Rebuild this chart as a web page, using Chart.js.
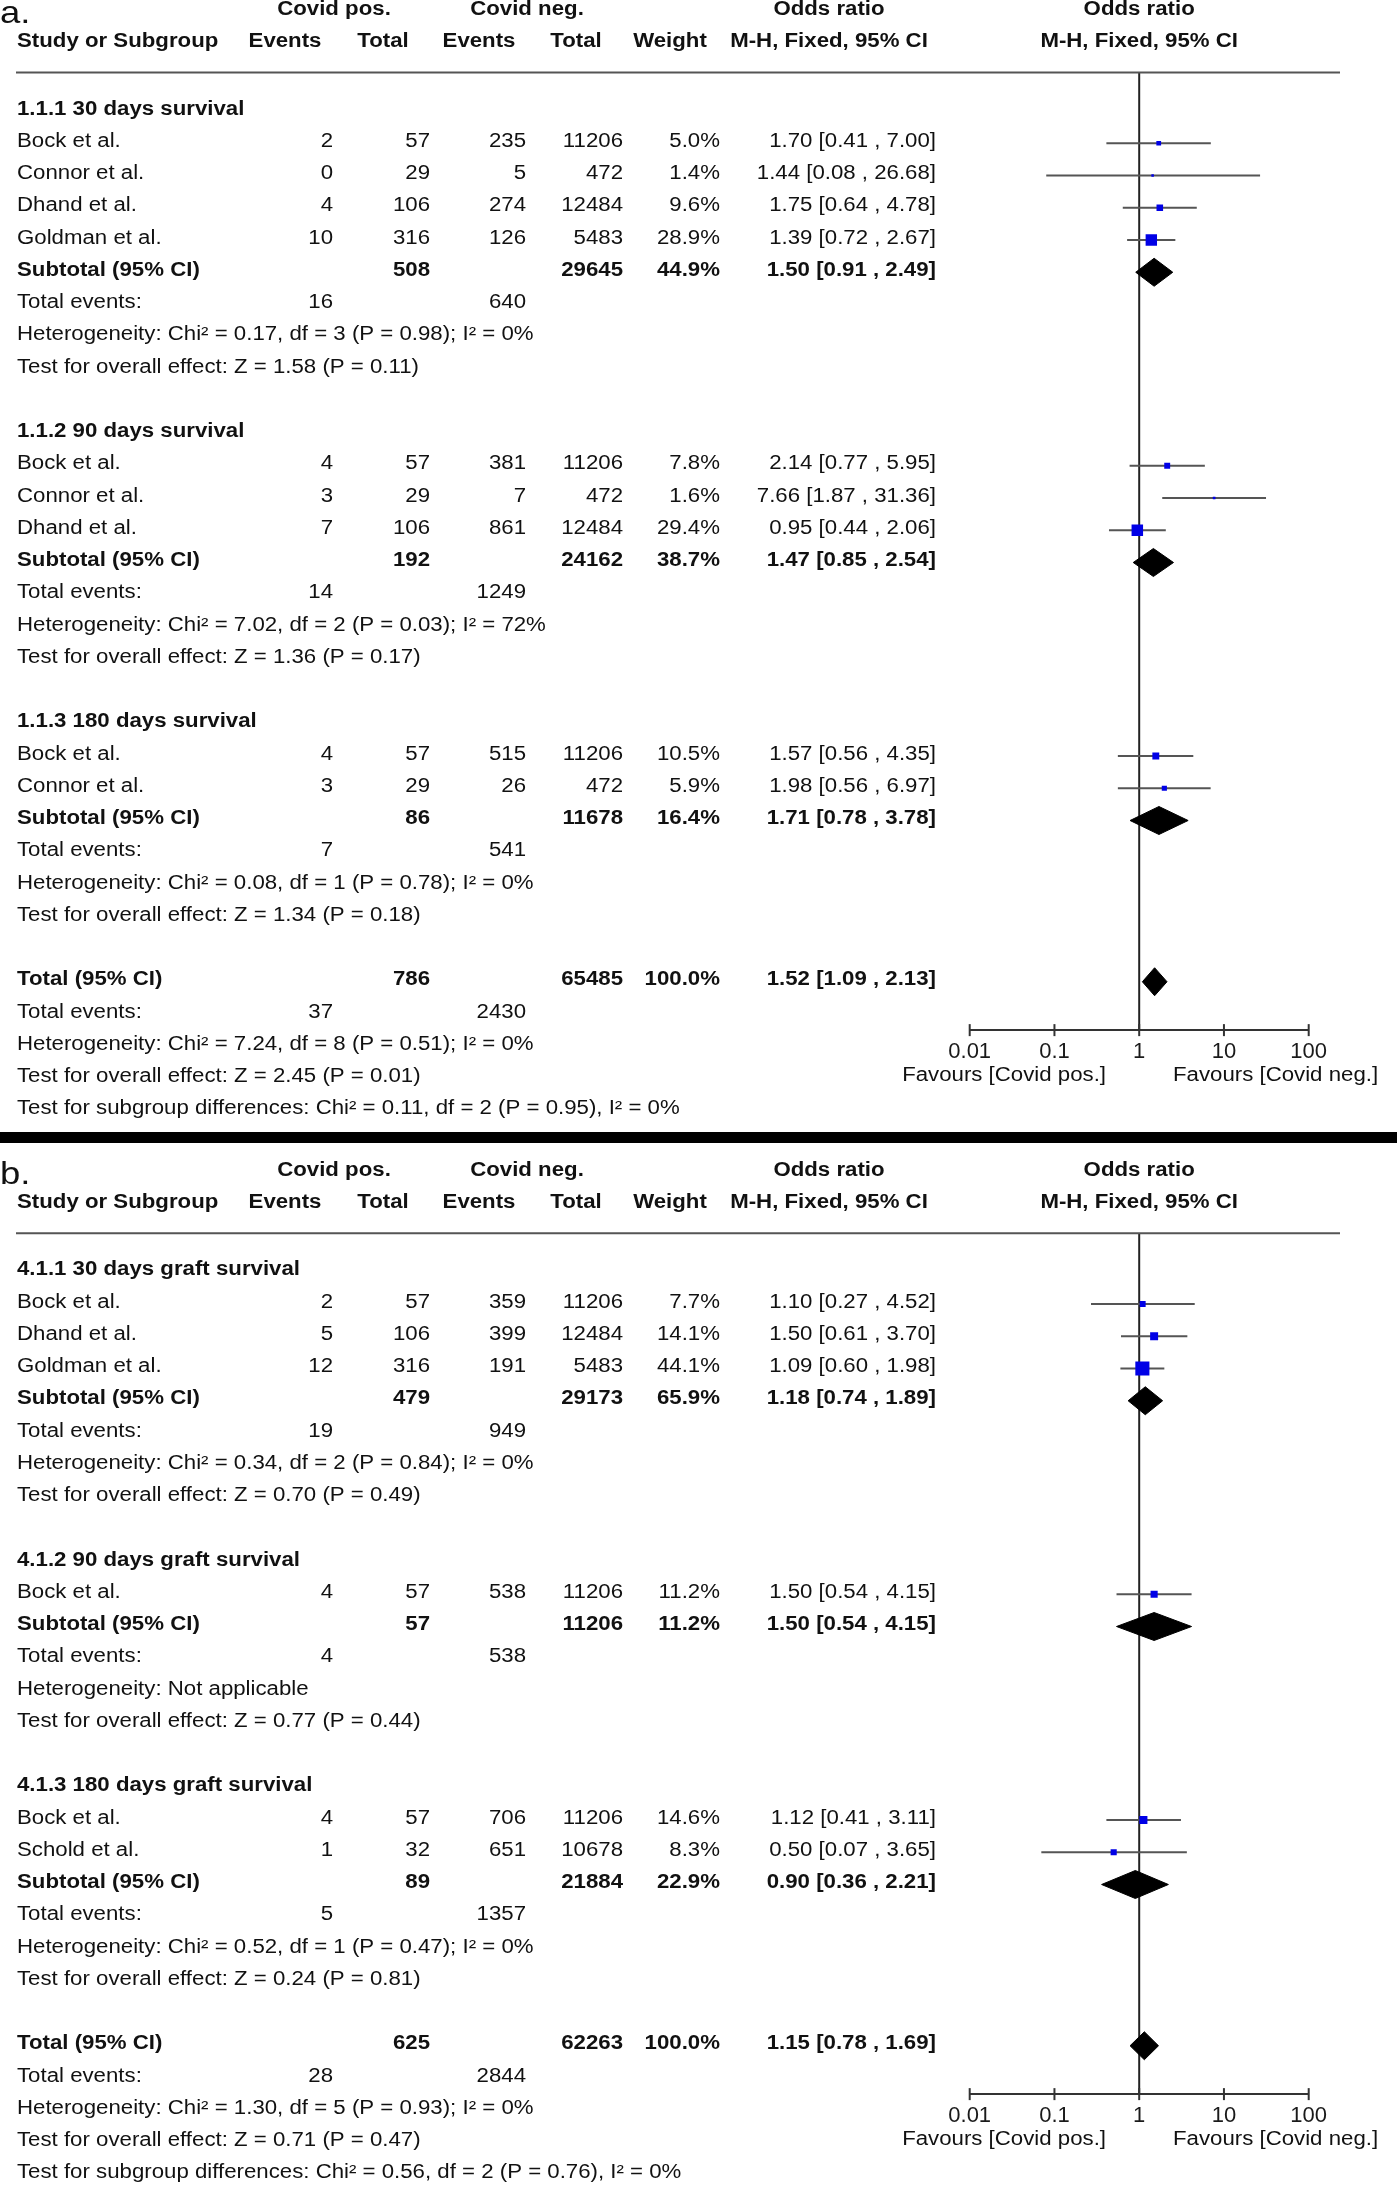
<!DOCTYPE html>
<html>
<head>
<meta charset="utf-8">
<script src="https://cdn.jsdelivr.net/npm/chart.js@4/dist/chart.umd.min.js"></script>
<style>
  body { margin: 0; background: #fff; }
  #page { position: relative; width: 1397px; height: 2185px; overflow: hidden; }
  canvas { position: absolute; left: 0; }
</style>
</head>
<body>
<div id="page">
  <canvas id="chartA" width="1397" height="1131" style="top:0;width:1397px;height:1131px"></canvas>
  <div style="position:absolute;left:0;top:1132px;width:1397px;height:11px;background:#000"></div>
  <canvas id="chartB" width="1397" height="1042" style="top:1143px;width:1397px;height:1042px"></canvas>
</div>
<script>
// Axis ticks
const tickValues = [0.01, 0.1, 1, 10, 100];
const tickLabels = ["0.01", "0.1", "1", "10", "100"];

// Panel a - survival
const aGroups = ["1.1.1 30 days survival", "1.1.2 90 days survival", "1.1.3 180 days survival"];
const aStudy = ["Bock et al.", "Connor et al.", "Dhand et al.", "Goldman et al.", "Bock et al.", "Connor et al.", "Dhand et al.", "Bock et al.", "Connor et al."];
const aGroupOf = [0, 0, 0, 0, 1, 1, 1, 2, 2];
const aPosEvents = [2, 0, 4, 10, 4, 3, 7, 4, 3];
const aPosTotal = [57, 29, 106, 316, 57, 29, 106, 57, 29];
const aNegEvents = [235, 5, 274, 126, 381, 7, 861, 515, 26];
const aNegTotal = [11206, 472, 12484, 5483, 11206, 472, 12484, 11206, 472];
const aWeight = [5.0, 1.4, 9.6, 28.9, 7.8, 1.6, 29.4, 10.5, 5.9];
const aOR = [1.70, 1.44, 1.75, 1.39, 2.14, 7.66, 0.95, 1.57, 1.98];
const aLow = [0.41, 0.08, 0.64, 0.72, 0.77, 1.87, 0.44, 0.56, 0.56];
const aHigh = [7.00, 26.68, 4.78, 2.67, 5.95, 31.36, 2.06, 4.35, 6.97];
const aSubPosTotal = [508, 192, 86];
const aSubNegTotal = [29645, 24162, 11678];
const aSubWeight = [44.9, 38.7, 16.4];
const aSubOR = [1.50, 1.47, 1.71];
const aSubLow = [0.91, 0.85, 0.78];
const aSubHigh = [2.49, 2.54, 3.78];
const aSubPosEvents = [16, 14, 7];
const aSubNegEvents = [640, 1249, 541];
const aSubHet = ["Heterogeneity: Chi² = 0.17, df = 3 (P = 0.98); I² = 0%",
                 "Heterogeneity: Chi² = 7.02, df = 2 (P = 0.03); I² = 72%",
                 "Heterogeneity: Chi² = 0.08, df = 1 (P = 0.78); I² = 0%"];
const aSubTest = ["Test for overall effect: Z = 1.58 (P = 0.11)",
                  "Test for overall effect: Z = 1.36 (P = 0.17)",
                  "Test for overall effect: Z = 1.34 (P = 0.18)"];
const aTotal = [786, 65485, 100.0];       // pos total, neg total, weight
const aTotalOR = [1.52, 1.09, 2.13];      // estimate, low, high
const aTotalEvents = [37, 2430];
const aTotalNotes = ["Heterogeneity: Chi² = 7.24, df = 8 (P = 0.51); I² = 0%",
                     "Test for overall effect: Z = 2.45 (P = 0.01)",
                     "Test for subgroup differences: Chi² = 0.11, df = 2 (P = 0.95), I² = 0%"];

// Panel b - graft survival
const bGroups = ["4.1.1 30 days graft survival", "4.1.2 90 days graft survival", "4.1.3 180 days graft survival"];
const bStudy = ["Bock et al.", "Dhand et al.", "Goldman et al.", "Bock et al.", "Bock et al.", "Schold et al."];
const bGroupOf = [0, 0, 0, 1, 2, 2];
const bPosEvents = [2, 5, 12, 4, 4, 1];
const bPosTotal = [57, 106, 316, 57, 57, 32];
const bNegEvents = [359, 399, 191, 538, 706, 651];
const bNegTotal = [11206, 12484, 5483, 11206, 11206, 10678];
const bWeight = [7.7, 14.1, 44.1, 11.2, 14.6, 8.3];
const bOR = [1.10, 1.50, 1.09, 1.50, 1.12, 0.50];
const bLow = [0.27, 0.61, 0.60, 0.54, 0.41, 0.07];
const bHigh = [4.52, 3.70, 1.98, 4.15, 3.11, 3.65];
const bSubPosTotal = [479, 57, 89];
const bSubNegTotal = [29173, 11206, 21884];
const bSubWeight = [65.9, 11.2, 22.9];
const bSubOR = [1.18, 1.50, 0.90];
const bSubLow = [0.74, 0.54, 0.36];
const bSubHigh = [1.89, 4.15, 2.21];
const bSubPosEvents = [19, 4, 5];
const bSubNegEvents = [949, 538, 1357];
const bSubHet = ["Heterogeneity: Chi² = 0.34, df = 2 (P = 0.84); I² = 0%",
                 "Heterogeneity: Not applicable",
                 "Heterogeneity: Chi² = 0.52, df = 1 (P = 0.47); I² = 0%"];
const bSubTest = ["Test for overall effect: Z = 0.70 (P = 0.49)",
                  "Test for overall effect: Z = 0.77 (P = 0.44)",
                  "Test for overall effect: Z = 0.24 (P = 0.81)"];
const bTotal = [625, 62263, 100.0];
const bTotalOR = [1.15, 0.78, 1.69];
const bTotalEvents = [28, 2844];
const bTotalNotes = ["Heterogeneity: Chi² = 1.30, df = 5 (P = 0.93); I² = 0%",
                     "Test for overall effect: Z = 0.71 (P = 0.47)",
                     "Test for subgroup differences: Chi² = 0.56, df = 2 (P = 0.76), I² = 0%"];

// Layout
const FONT = "'Liberation Sans', Arial, sans-serif";
const FS = 19.5;       // font size
const SX = 1.14;       // text is a bit wide in the original
const ROW = 32.25;     // px per row
const col = { name: 17, posEv: 333, posTot: 430, negEv: 526, negTot: 623, weight: 720, ci: 936 };
const head = { posEv: 285, posTot: 383, negEv: 479, negTot: 576, weight: 670, ci: 829, pos: 334, neg: 527 };

function txt(ctx, s, x, y, align, bold, size) {
    ctx.save();
    ctx.font = (bold ? "bold " : "") + (size || FS) + "px " + FONT;
    ctx.fillStyle = "#111";
    ctx.textAlign = align;
    ctx.textBaseline = "alphabetic";
    ctx.translate(x, y);
    ctx.scale(SX, 1);
    ctx.fillText(s, 0, 0);
    ctx.restore();
}

function ciText(or, lo, hi) {
    return or.toFixed(2) + " [" + lo.toFixed(2) + " , " + hi.toFixed(2) + "]";
}

// one row per line of the table
function buildRows(p) {
    const rows = [];
    p.groups.forEach((g, gi) => {
        rows.push({ kind: "group", text: g });
        p.study.forEach((s, i) => {
            if (p.groupOf[i] === gi) rows.push({ kind: "study", i: i });
        });
        rows.push({ kind: "sub", gi: gi });
        rows.push({ kind: "events", a: p.subPosEvents[gi], b: p.subNegEvents[gi] });
        rows.push({ kind: "note", text: p.subHet[gi] });
        rows.push({ kind: "note", text: p.subTest[gi] });
        rows.push({ kind: "blank" });
    });
    rows.push({ kind: "total" });
    rows.push({ kind: "events", a: p.totalEvents[0], b: p.totalEvents[1] });
    p.totalNotes.forEach(t => rows.push({ kind: "note", text: t }));
    return rows;
}

function makeChart(canvasId, label, p, row0) {
    const rows = buildRows(p);
    const yMin = -38.5 / ROW;
    const yMax = rows.length - 3.5;
    const canvas = document.getElementById(canvasId);
    const H = canvas.height;
    const axisPx = row0 + yMax * ROW;
    const DH = 0.434; // diamond half height in rows

    const squares = [];
    const ciLines = [];
    const diamonds = [];
    rows.forEach((r, k) => {
        if (r.kind === "study") {
            squares.push({ x: p.or[r.i], y: k, w: p.weight[r.i] });
            ciLines.push({
                data: [{ x: p.low[r.i], y: k }, { x: p.high[r.i], y: k }],
                showLine: true, borderColor: "#555", borderWidth: 2.2, pointRadius: 0
            });
        } else if (r.kind === "sub" || r.kind === "total") {
            const est = r.kind === "sub" ? p.subOR[r.gi] : p.totalOR[0];
            const lo = r.kind === "sub" ? p.subLow[r.gi] : p.totalOR[1];
            const hi = r.kind === "sub" ? p.subHigh[r.gi] : p.totalOR[2];
            diamonds.push({
                data: [{ x: lo, y: k }, { x: est, y: k - DH }, { x: hi, y: k }, { x: est, y: k + DH }, { x: lo, y: k }],
                showLine: true, fill: "shape", backgroundColor: "#000", borderColor: "#000",
                borderWidth: 1, pointRadius: 0, tension: 0
            });
        }
    });

    const datasets = [];
    datasets.push({
        data: squares.map(s => ({ x: s.x, y: s.y })),
        pointStyle: "rect",
        pointRadius: squares.map(s => 1.5 * Math.sqrt(s.w)),
        pointBackgroundColor: "#0000e6",
        pointBorderWidth: 0,
        showLine: false
    });
    diamonds.forEach(d => datasets.push(d));
    ciLines.forEach(d => datasets.push(d));
    // tick marks crossing the axis
    datasets.push({
        data: tickValues.map(v => ({ x: v, y: yMax })),
        pointStyle: "line", pointRotation: 90, pointRadius: 6,
        pointBorderColor: "#333", pointBorderWidth: 2, showLine: false, clip: false
    });
    // line of no effect
    datasets.push({
        data: [{ x: 1, y: yMin }, { x: 1, y: yMax }],
        showLine: true, borderColor: "#222", borderWidth: 2, pointRadius: 0
    });

    const tablePlugin = {
        id: "tableText",
        afterDraw(chart) {
            const ctx = chart.ctx;
            const ys = chart.scales.y;
            const xs = chart.scales.x;
            const py = r => ys.getPixelForValue(r);
            const top = chart.chartArea.top;
            const axisY = chart.chartArea.bottom;

            ctx.save();
            ctx.strokeStyle = "#555";
            ctx.lineWidth = 2.2;
            ctx.beginPath();
            ctx.moveTo(16, top);
            ctx.lineTo(1340, top);
            ctx.stroke();
            ctx.restore();

            txt(ctx, label, 0, py(-2.73), "left", false, 32);

            const h1 = py(-3.07) + 3.5;
            const h2 = py(-2.08) + 3.5;
            const x1 = xs.getPixelForValue(1);
            txt(ctx, "Covid pos.", head.pos, h1, "center", true);
            txt(ctx, "Covid neg.", head.neg, h1, "center", true);
            txt(ctx, "Odds ratio", head.ci, h1, "center", true);
            txt(ctx, "Odds ratio", x1, h1, "center", true);
            txt(ctx, "Study or Subgroup", col.name, h2, "left", true);
            txt(ctx, "Events", head.posEv, h2, "center", true);
            txt(ctx, "Total", head.posTot, h2, "center", true);
            txt(ctx, "Events", head.negEv, h2, "center", true);
            txt(ctx, "Total", head.negTot, h2, "center", true);
            txt(ctx, "Weight", head.weight, h2, "center", true);
            txt(ctx, "M-H, Fixed, 95% CI", head.ci, h2, "center", true);
            txt(ctx, "M-H, Fixed, 95% CI", x1, h2, "center", true);

            rows.forEach((r, k) => {
                const y = py(k) + 3.5;
                if (r.kind === "group") {
                    txt(ctx, r.text, col.name, y, "left", true);
                } else if (r.kind === "study") {
                    const i = r.i;
                    txt(ctx, p.study[i], col.name, y, "left", false);
                    txt(ctx, String(p.posEvents[i]), col.posEv, y, "right", false);
                    txt(ctx, String(p.posTotal[i]), col.posTot, y, "right", false);
                    txt(ctx, String(p.negEvents[i]), col.negEv, y, "right", false);
                    txt(ctx, String(p.negTotal[i]), col.negTot, y, "right", false);
                    txt(ctx, p.weight[i].toFixed(1) + "%", col.weight, y, "right", false);
                    txt(ctx, ciText(p.or[i], p.low[i], p.high[i]), col.ci, y, "right", false);
                } else if (r.kind === "sub") {
                    const g = r.gi;
                    txt(ctx, "Subtotal (95% CI)", col.name, y, "left", true);
                    txt(ctx, String(p.subPosTotal[g]), col.posTot, y, "right", true);
                    txt(ctx, String(p.subNegTotal[g]), col.negTot, y, "right", true);
                    txt(ctx, p.subWeight[g].toFixed(1) + "%", col.weight, y, "right", true);
                    txt(ctx, ciText(p.subOR[g], p.subLow[g], p.subHigh[g]), col.ci, y, "right", true);
                } else if (r.kind === "total") {
                    txt(ctx, "Total (95% CI)", col.name, y, "left", true);
                    txt(ctx, String(p.total[0]), col.posTot, y, "right", true);
                    txt(ctx, String(p.total[1]), col.negTot, y, "right", true);
                    txt(ctx, p.total[2].toFixed(1) + "%", col.weight, y, "right", true);
                    txt(ctx, ciText(p.totalOR[0], p.totalOR[1], p.totalOR[2]), col.ci, y, "right", true);
                } else if (r.kind === "events") {
                    txt(ctx, "Total events:", col.name, y, "left", false);
                    txt(ctx, String(r.a), col.posEv, y, "right", false);
                    txt(ctx, String(r.b), col.negEv, y, "right", false);
                } else if (r.kind === "note") {
                    txt(ctx, r.text, col.name, y, "left", false);
                }
            });

            txt(ctx, "Favours [Covid pos.]", 1106, axisY + 51, "right", false);
            txt(ctx, "Favours [Covid neg.]", 1173, axisY + 51, "left", false);
        }
    };

    return new Chart(canvas.getContext("2d"), {
        type: "scatter",
        data: { datasets: datasets },
        options: {
            responsive: false,
            devicePixelRatio: 1,
            animation: false,
            events: [],
            layout: {
                padding: { left: 969.7, right: 1397 - 1308.7, top: row0 + yMin * ROW, bottom: H - axisPx - 40 }
            },
            plugins: { legend: { display: false }, tooltip: { enabled: false } },
            scales: {
                x: {
                    type: "logarithmic",
                    min: 0.01,
                    max: 100,
                    position: "bottom",
                    grid: { display: false },
                    border: { display: true, color: "#333", width: 2 },
                    ticks: {
                        autoSkip: false,
                        maxRotation: 0,
                        padding: 1,
                        color: "#1a1a1a",
                        font: { family: FONT, size: 22 },
                        callback: (v, i) => tickLabels[i]
                    },
                    afterBuildTicks: s => { s.ticks = tickValues.map(v => ({ value: v })); },
                    afterFit: s => { s.height = 40; }
                },
                y: { type: "linear", reverse: true, min: yMin, max: yMax, display: false }
            }
        },
        plugins: [tablePlugin]
    });
}

const panelA = {
    groups: aGroups, study: aStudy, groupOf: aGroupOf,
    posEvents: aPosEvents, posTotal: aPosTotal, negEvents: aNegEvents, negTotal: aNegTotal,
    weight: aWeight, or: aOR, low: aLow, high: aHigh,
    subPosTotal: aSubPosTotal, subNegTotal: aSubNegTotal, subWeight: aSubWeight,
    subOR: aSubOR, subLow: aSubLow, subHigh: aSubHigh,
    subPosEvents: aSubPosEvents, subNegEvents: aSubNegEvents, subHet: aSubHet, subTest: aSubTest,
    total: aTotal, totalOR: aTotalOR, totalEvents: aTotalEvents, totalNotes: aTotalNotes
};
const panelB = {
    groups: bGroups, study: bStudy, groupOf: bGroupOf,
    posEvents: bPosEvents, posTotal: bPosTotal, negEvents: bNegEvents, negTotal: bNegTotal,
    weight: bWeight, or: bOR, low: bLow, high: bHigh,
    subPosTotal: bSubPosTotal, subNegTotal: bSubNegTotal, subWeight: bSubWeight,
    subOR: bSubOR, subLow: bSubLow, subHigh: bSubHigh,
    subPosEvents: bSubPosEvents, subNegEvents: bSubNegEvents, subHet: bSubHet, subTest: bSubTest,
    total: bTotal, totalOR: bTotalOR, totalEvents: bTotalEvents, totalNotes: bTotalNotes
};

makeChart("chartA", "a.", panelA, 111);
makeChart("chartB", "b.", panelB, 1271.75 - 1143);
</script>
</body>
</html>
